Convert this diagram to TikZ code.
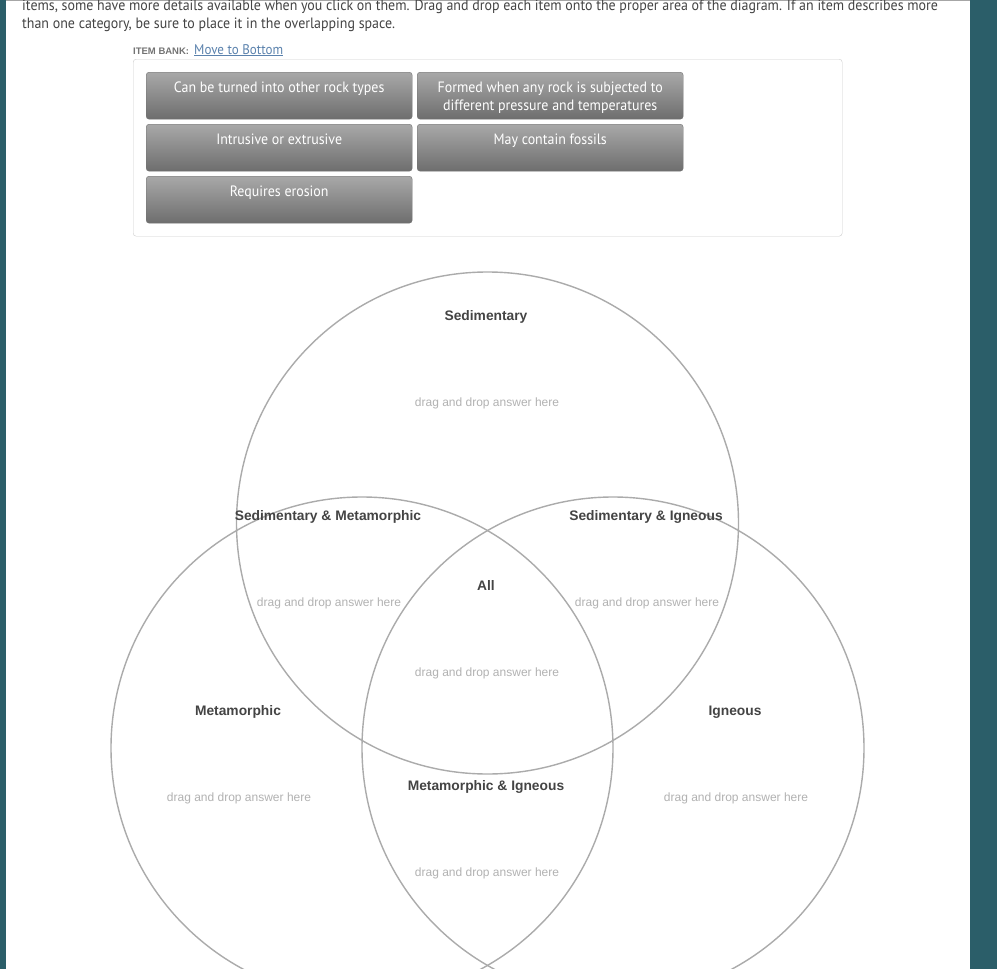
\documentclass[tikz,border=0pt]{standalone}
\usepackage{fontspec}
\setmainfont{Liberation Sans}
\newfontfamily\uifont[FakeStretch=0.93]{PT Sans}
\usepackage{xcolor}
\usepackage{tikz}
\usetikzlibrary{positioning}
\definecolor{pageteal}{HTML}{2B5E69}
\definecolor{ringgray}{HTML}{ABABAB}
\definecolor{headgray}{HTML}{444444}
\definecolor{hintgray}{HTML}{B2B2B2}
\definecolor{linkblue}{HTML}{5B82AD}

\begin{document}
\begin{tikzpicture}[x=1pt, y=-1pt,
  ring/.style={circle, draw=ringgray, line width=1.4pt, minimum size=502pt,
    inner sep=0pt},
  head/.style={font=\fontsize{13.8}{15}\selectfont\bfseries, text=headgray,
    inner sep=0pt},
  hint/.style={font=\fontsize{12}{14}\selectfont, text=hintgray, inner sep=0pt},
  btn/.style={draw=black!55, rounded corners=3pt, top color=black!34,
    bottom color=black!57, minimum width=266pt, minimum height=47pt,
    anchor=north west, inner sep=0pt},
  btntext/.style={font=\uifont\fontsize{15}{18}\selectfont, text=white,
    align=center, inner sep=0pt}
]
\useasboundingbox (0,0) rectangle (997,969);
\fill[white] (0,0) rectangle (997,969);
% Page edges
\fill[pageteal] (0,0) rectangle (6,969);
\fill[pageteal] (970,0) rectangle (997,969);
\draw[black!35, line width=1pt] (6,0.5) -- (970,0.5);
% Instructions
\node[anchor=base west, inner sep=0pt, text=headgray,
  font=\uifont\fontsize{15}{17}\selectfont] (intro1) at (22,10)
  {items, some have more details available when you click on them. Drag and drop each item onto the proper area of the diagram. If an item describes more};
\node[anchor=base west, inner sep=0pt, text=headgray,
  font=\uifont\fontsize{15}{17}\selectfont] (intro2) at (22,28)
  {than one category, be sure to place it in the overlapping space.};
% Item bank
\node[anchor=base west, inner sep=0pt, text=black!55,
  font=\fontsize{9.5}{11}\selectfont\bfseries] (bank) at (133,54) {ITEM BANK:};
\node[anchor=base west, inner sep=0pt, text=linkblue,
  font=\uifont\fontsize{14}{16}\selectfont] (move) at (194,54)
  {\underline{Move to Bottom}};
\node[draw=black!20, rounded corners=3pt, minimum width=709pt,
  minimum height=177pt, anchor=north west, inner sep=0pt] (bankbox) at (133,59) {};
\node[btn] (b1) at (146,72) {};
\node[btn] (b2) at (417,72) {};
\node[btn] (b3) at (146,124) {};
\node[btn] (b4) at (417,124) {};
\node[btn] (b5) at (146,176) {};
\node[btntext, below=10pt of b1.north, anchor=north] {Can be turned into other rock types};
\node[btntext, below=10pt of b2.north, anchor=north] {Formed when any rock is subjected to\\different pressure and temperatures};
\node[btntext, below=10pt of b3.north, anchor=north] {Intrusive or extrusive};
\node[btntext, below=10pt of b4.north, anchor=north] {May contain fossils};
\node[btntext, below=10pt of b5.north, anchor=north] {Requires erosion};
% Circles
\node[ring] (sed) at (487.5,523) {};
\node[ring] (met) at (362,748) {};
\node[ring] (ign) at (613,748) {};
% Region titles
\node[head] (tsed) at (486,317) {Sedimentary};
\node[head] (tsm) at (328,517) {Sedimentary \& Metamorphic};
\node[head] (tsi) at (646,517) {Sedimentary \& Igneous};
\node[head] (tall) at (486,585.5) {All};
\node[head] (tmet) at (238,712) {Metamorphic};
\node[head] (tign) at (735,712) {Igneous};
\node[head] (tmi) at (486,787) {Metamorphic \& Igneous};
% Drop zones
\node[hint] (dsed) at (487,403) {drag and drop answer here};
\node[hint] (dsm) at (329,603) {drag and drop answer here};
\node[hint] (dsi) at (647,603) {drag and drop answer here};
\node[hint] (dall) at (487,673) {drag and drop answer here};
\node[hint] (dmet) at (239,798) {drag and drop answer here};
\node[hint] (dign) at (736,798) {drag and drop answer here};
\node[hint] (dmi) at (487,873) {drag and drop answer here};
\end{tikzpicture}
\end{document}
